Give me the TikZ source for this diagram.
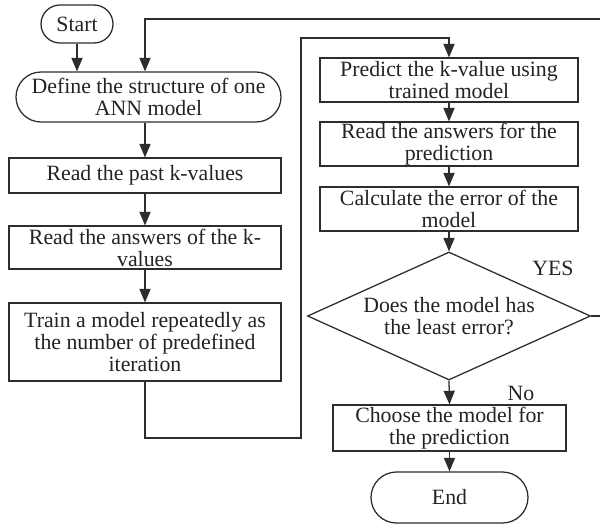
\documentclass[tikz,border=0pt]{standalone}
\usepackage{fontspec}
\setmainfont{Liberation Serif}
\usepackage{tikz}
\usetikzlibrary{shapes,arrows}

\definecolor{lineGray}{RGB}{45,45,45}
\definecolor{textGray}{RGB}{35,35,35}

\begin{document}
\begin{tikzpicture}[x=0.55pt,y=-0.55pt,>=triangle 45,line width=0.7pt,
  box/.style={draw=lineGray,rectangle,inner sep=0pt,align=center,text=textGray,font=\fontsize{12}{12.1}\selectfont},
  term/.style={box,rounded rectangle},
  test/.style={box,diamond,aspect=2.2},
  flow/.style={->,draw=lineGray},
  tag/.style={text=textGray,font=\fontsize{12}{12.1}\selectfont}]
\useasboundingbox (0,0) rectangle (600,526);
% left column
\node[term,minimum width=39.6pt,minimum height=20.9pt] (start) at (77,24) {Start};
\node[term,minimum width=145.75pt,minimum height=27.5pt] (define) at (148.5,97) {Define the structure of one\\ANN model};
\node[box,minimum width=149.6pt,minimum height=19.25pt] (past) at (145,175.5) {Read the past k-values};
\node[box,minimum width=149.6pt,minimum height=23.65pt] (answers) at (145,247.5) {Read the answers of the k-\\values};
\node[box,minimum width=149.6pt,minimum height=42.9pt] (train) at (145,342) {Train a model repeatedly as\\the number of predefined\\iteration};
% right column
\node[box,minimum width=141.9pt,minimum height=24.2pt] (predict) at (449,80) {Predict the k-value using\\trained model};
\node[box,minimum width=141.9pt,minimum height=24.2pt] (readpred) at (449,144) {Read the answers for the\\prediction};
\node[box,minimum width=141.9pt,minimum height=24.2pt] (calc) at (449,209) {Calculate the error of the\\model};
\node[test,minimum width=155.65pt,minimum height=70.4pt] (decide) at (449,316) {Does the model has\\the least error?};
\node[box,minimum width=128.15pt,minimum height=25.3pt] (choose) at (449.5,428) {Choose the model for\\the prediction};
\node[term,minimum width=86.35pt,minimum height=28.05pt] (finish) at (449.5,497.5) {End};
\node[tag] (yes) at (553,268) {YES};
\node[tag] (no) at (521,393) {No};
% turning points
\coordinate (loopR) at (604,316);
\coordinate (loopTop) at (145,19);
\coordinate (turnA) at (301,438);
\coordinate (turnB) at (301,38);
% connectors
\draw[flow] (start.south) -- (start.south |- define.north);
\draw[flow] (define.south -| past.north) -- (past.north);
\draw[flow] (past.south) -- (answers.north);
\draw[flow] (answers.south) -- (train.north);
\draw[flow] (train.south) |- (turnA) -- (turnB) -| (predict.north);
\draw[flow] (predict.south) -- (readpred.north);
\draw[flow] (readpred.south) -- (calc.north);
\draw[flow] (calc.south) -- (decide.north);
\draw[flow] (decide.south) -- (choose.north);
\draw[flow] (choose.south) -- (finish.north);
\draw[flow] (decide.east) -- (loopR) |- (loopTop) -- (loopTop |- define.north);
\end{tikzpicture}
\end{document}
